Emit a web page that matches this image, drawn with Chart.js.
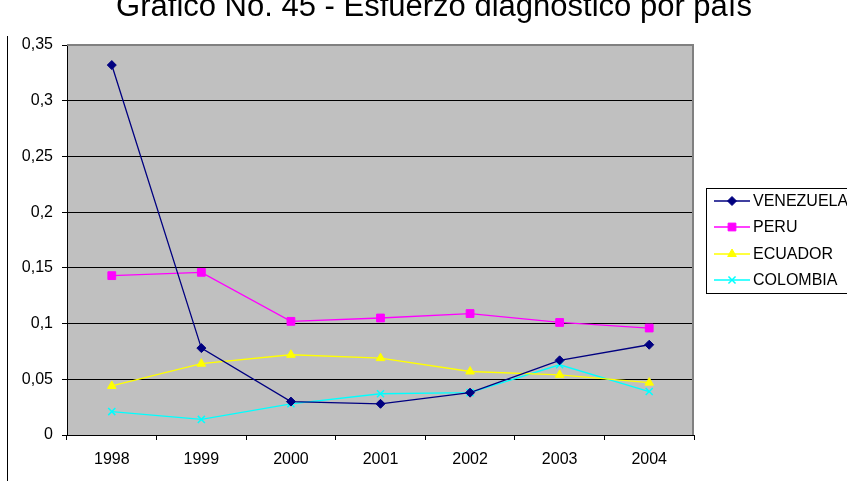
<!DOCTYPE html>
<html>
<head>
<meta charset="utf-8">
<script src="https://cdn.jsdelivr.net/npm/chart.js@4.4.0/dist/chart.umd.min.js"></script>
<style>
  html, body { margin: 0; padding: 0; background: #fff; }
  #wrap { width: 847px; height: 481px; position: relative; }
</style>
</head>
<body>
<div id="wrap"><canvas id="chart" width="847" height="481"></canvas></div>
<script>
// series
const titleText = 'Gráfico No. 45 - Esfuerzo diagnostico por país';
const years     = ['1998', '1999', '2000', '2001', '2002', '2003', '2004'];
const venezuela = [0.332, 0.078, 0.030, 0.028, 0.038, 0.067, 0.081];
const peru      = [0.143, 0.146, 0.102, 0.105, 0.109, 0.101, 0.096];
const ecuador   = [0.044, 0.064, 0.072, 0.069, 0.057, 0.054, 0.047];
const colombia  = [0.021, 0.014, 0.028, 0.037, 0.038, 0.063, 0.039];

const FONT = 'Liberation Sans, Arial, sans-serif';

function series(label, data, color, style, radius) {
    return {
        label, data,
        borderColor: color,
        backgroundColor: color,
        borderWidth: 1.3,
        pointStyle: style,
        pointRadius: radius,
        pointHoverRadius: radius,
        pointBorderWidth: style === 'crossRot' ? 1.5 : 1,
        tension: 0,
    };
}

// gray plot area, its gray top/right edge, the thin outer frame line and the title
const frame = {
    id: 'frame',
    beforeDraw(chart) {
        const { ctx, chartArea: a } = chart;
        ctx.save();
        ctx.fillStyle = '#c0c0c0';
        ctx.fillRect(a.left, a.top, a.right - a.left, a.bottom - a.top);
        ctx.restore();
    },
    afterDatasetsDraw(chart) {
        const { ctx, chartArea: a } = chart;
        ctx.save();
        ctx.strokeStyle = '#808080';
        ctx.lineWidth = 2;
        ctx.beginPath();
        ctx.moveTo(a.left, a.top);
        ctx.lineTo(a.right - 1, a.top);
        ctx.lineTo(a.right - 1, a.bottom);
        ctx.stroke();
        // outer frame line on the left
        ctx.strokeStyle = '#000';
        ctx.lineWidth = 1;
        ctx.beginPath();
        ctx.moveTo(7.5, 36);
        ctx.lineTo(7.5, 481);
        ctx.stroke();
        // title (cut off by the top edge, as in the source)
        ctx.fillStyle = '#000';
        ctx.font = '31px ' + FONT;
        ctx.textAlign = 'center';
        ctx.textBaseline = 'alphabetic';
        ctx.fillText(titleText, 434, 16);
        ctx.restore();
    },
};

// boxed legend on the right, running off the edge
const boxLegend = {
    id: 'boxLegend',
    afterDraw(chart) {
        const { ctx } = chart;
        ctx.save();
        ctx.strokeStyle = '#000';
        ctx.lineWidth = 1;
        ctx.strokeRect(706.5, 188.5, 170, 105);
        const rows = [201, 227, 254, 280];
        chart.data.datasets.forEach((ds, i) => {
            const y = rows[i];
            ctx.strokeStyle = ds.borderColor;
            ctx.lineWidth = 1.3;
            ctx.beginPath();
            ctx.moveTo(714, y);
            ctx.lineTo(750, y);
            ctx.stroke();
            ctx.fillStyle = ds.backgroundColor;
            ctx.lineWidth = ds.pointBorderWidth;
            Chart.helpers.drawPoint(ctx, {
                pointStyle: ds.pointStyle,
                radius: ds.pointRadius,
                rotation: 0,
                borderWidth: ds.pointBorderWidth,
            }, 732, y);
            ctx.fillStyle = '#000';
            ctx.font = '16px ' + FONT;
            ctx.textAlign = 'left';
            ctx.textBaseline = 'middle';
            ctx.fillText(ds.label, 753, y + 1);
        });
        ctx.restore();
    },
};

new Chart(document.getElementById('chart'), {
    type: 'line',
    data: {
        labels: years,
        datasets: [
            series('VENEZUELA', venezuela, '#000080', 'rectRot', 4.5),
            series('PERU',      peru,      '#ff00ff', 'rect',    5.5),
            series('ECUADOR',   ecuador,   '#ffff00', 'triangle', 5),
            series('COLOMBIA',  colombia,  '#00ffff', 'crossRot', 5),
        ],
    },
    options: {
        responsive: false,
        animation: false,
        layout: { padding: { left: 0, top: 45, right: 153, bottom: 0 } },
        plugins: {
            legend: { display: false },
            title: { display: false },
            tooltip: { enabled: false },
        },
        scales: {
            x: {
                offset: true,
                grid: {
                    offset: true,
                    drawOnChartArea: false,
                    tickLength: 5,
                    color: '#000',
                },
                border: { color: '#000', width: 1 },
                ticks: {
                    color: '#000',
                    font: { family: FONT, size: 16 },
                    padding: 10,
                    maxRotation: 0,
                },
                afterFit(s) { s.height = 46; },
            },
            y: {
                min: 0,
                max: 0.35,
                grid: {
                    tickLength: 5,
                    color: (c) => (c.tick && (c.tick.value === 0 || c.tick.value >= 0.349)) ? 'rgba(0,0,0,0)' : '#000',
                    tickColor: '#000',
                },
                border: { color: '#000', width: 1 },
                ticks: {
                    stepSize: 0.05,
                    color: '#000',
                    font: { family: FONT, size: 16 },
                    padding: 9,
                    callback: (v) => String(Math.round(v * 100) / 100).replace('.', ','),
                },
                afterFit(s) { s.width = 67; },
            },
        },
    },
    plugins: [frame, boxLegend],
});
</script>
</body>
</html>
